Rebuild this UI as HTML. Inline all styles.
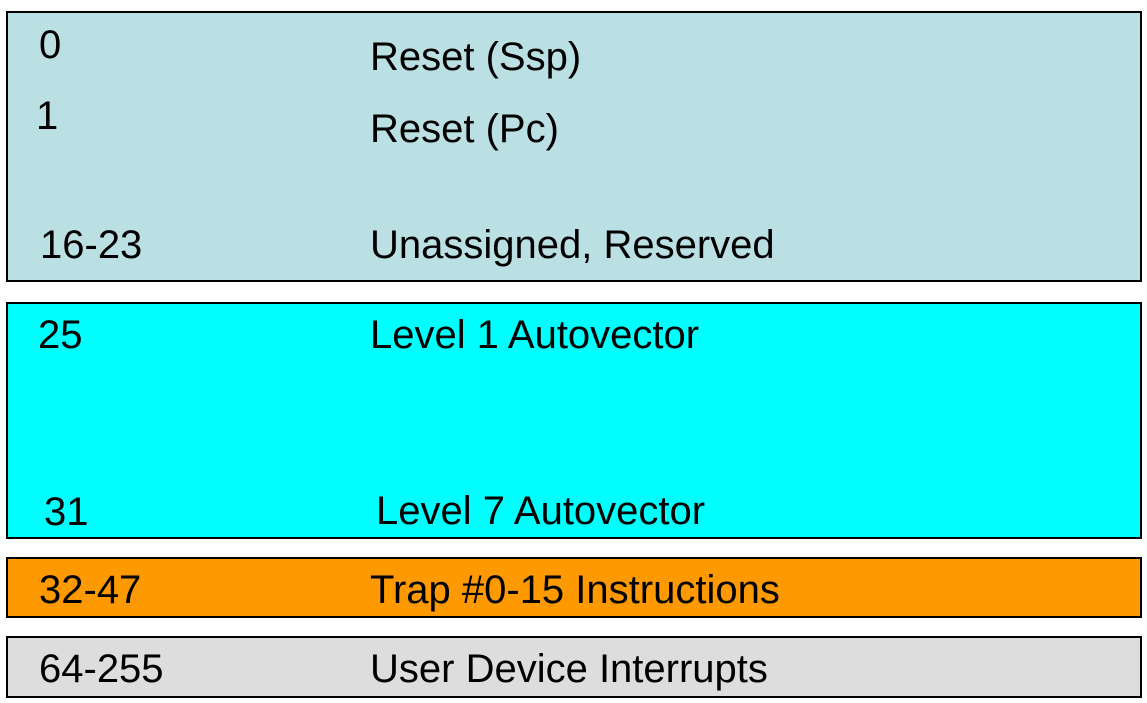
<!DOCTYPE html>
<html><head><style>
body{margin:0;width:1147px;height:703px;background:#fff;position:relative;overflow:hidden;font-family:"Liberation Sans",Arial,sans-serif;}
.b{position:absolute;box-sizing:border-box;border:2px solid #000;}
.t{position:absolute;font-size:40px;line-height:40px;color:#000;white-space:nowrap;}
</style></head><body>
<div class="b" style="left:6px;top:11px;width:1136px;height:271px;background:#bbe0e3"></div>
<div class="b" style="left:6px;top:302px;width:1136px;height:237px;background:#00ffff"></div>
<div class="b" style="left:6px;top:557px;width:1136px;height:61px;background:#ff9900"></div>
<div class="b" style="left:6px;top:636px;width:1136px;height:62px;background:#dddddd"></div>

<div class="t" style="left:39px;top:25px">0</div>
<div class="t" style="left:370px;top:37px">Reset (Ssp)</div>
<div class="t" style="left:36px;top:96px">1</div>
<div class="t" style="left:370px;top:109px">Reset (Pc)</div>
<div class="t" style="left:40px;top:225px">16-23</div>
<div class="t" style="left:370px;top:225px">Unassigned, Reserved</div>
<div class="t" style="left:38px;top:315px">25</div>
<div class="t" style="left:370px;top:315px">Level 1 Autovector</div>
<div class="t" style="left:44px;top:492px">31</div>
<div class="t" style="left:376px;top:491px">Level 7 Autovector</div>
<div class="t" style="left:39px;top:570px">32-47</div>
<div class="t" style="left:370px;top:570px">Trap #0-15 Instructions</div>
<div class="t" style="left:39px;top:649px">64-255</div>
<div class="t" style="left:370px;top:649px">User Device Interrupts</div>
</body></html>
